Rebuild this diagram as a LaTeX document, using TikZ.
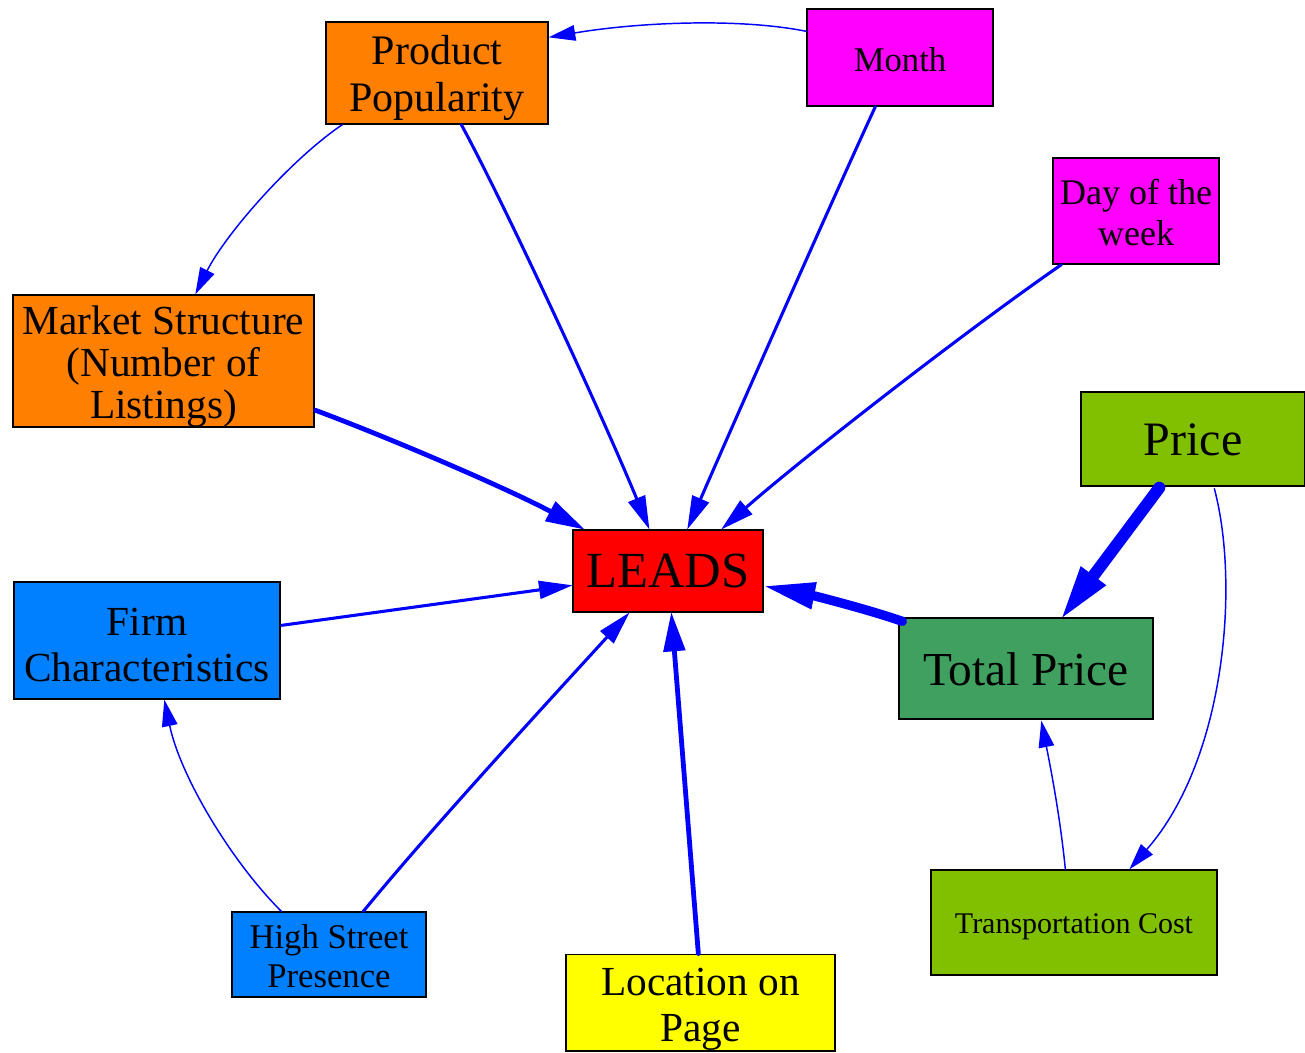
\documentclass[tikz,border=0pt]{standalone}
\usepackage{fontspec}
\setmainfont{Liberation Serif}
\usetikzlibrary{arrows.meta,calc}
\definecolor{eblue}{HTML}{0000FF}
\definecolor{corange}{HTML}{FF8000}
\definecolor{cmagenta}{HTML}{FF00FF}
\definecolor{clime}{HTML}{80C000}
\definecolor{cgreen}{HTML}{40A060}
\definecolor{cblue}{HTML}{0080FF}
\definecolor{cred}{HTML}{FF0000}
\definecolor{cyellow}{HTML}{FFFF00}
% lowers the text of a node by #1 px (strut on first line)
\newcommand{\txtdown}[1]{\rule{0pt}{\dimexpr\fontcharht\font`d+#1pt*3/2\relax}}
\begin{document}
\begin{tikzpicture}[x=0.75pt,y=-0.75pt,
  box/.style={draw=black, line width=1pt, inner sep=0pt, align=center, text=black},
  e1/.style={draw=eblue, line width=1.1pt, line cap=round, -{Triangle[length=20pt,width=12pt,line width=0pt]}},
  e3/.style={draw=eblue, line width=2.3pt, line cap=round, -{Triangle[length=25pt,width=14pt,line width=0pt]}},
  e5/.style={draw=eblue, line width=3.6pt, line cap=round, -{Triangle[length=29pt,width=17pt,line width=0pt]}},
  e8/.style={draw=eblue, line width=7pt, line cap=round, -{Triangle[length=37pt,width=21pt,line width=0pt]}},
  e11/.style={draw=eblue, line width=9pt, line cap=round, -{Triangle[length=39pt,width=24pt,line width=0pt]}}]
\useasboundingbox (0,0) rectangle (1305,1052);

% nodes
\node[box, fill=corange, minimum width=222*0.75pt, minimum height=102*0.75pt,
  font=\fontsize{31.5}{35}\selectfont] (pp) at (437,73) {\txtdown{6}Product\\Popularity};
\node[box, fill=cmagenta, minimum width=186*0.75pt, minimum height=97*0.75pt,
  font=\fontsize{26}{30}\selectfont] (month) at (900,57.5) {\txtdown{3}Month};
\node[box, fill=cmagenta, minimum width=166*0.75pt, minimum height=106*0.75pt,
  font=\fontsize{27}{31}\selectfont] (day) at (1136,211) {\txtdown{2.5}Day of the\\week};
\node[box, fill=corange, minimum width=301*0.75pt, minimum height=130*0.75pt,
  font=\fontsize{31}{31.5}\selectfont] (ms) at (163.5,361) {\txtdown{6}Market Structure\\(Number of\\Listings)};
\node[box, fill=clime, minimum width=224*0.75pt, minimum height=94*0.75pt,
  font=\fontsize{36}{40}\selectfont] (price) at (1193,439) {\txtdown{1}Price};
\node[box, fill=cred, minimum width=190*0.75pt, minimum height=82*0.75pt,
  font=\fontsize{38}{42}\selectfont] (leads) at (668,571) {LEADS};
\node[box, fill=cblue, minimum width=266*0.75pt, minimum height=117*0.75pt,
  font=\fontsize{31}{34.5}\selectfont] (firm) at (147,640.5) {\txtdown{4.5}Firm\\Characteristics};
\node[box, fill=cgreen, minimum width=254*0.75pt, minimum height=101*0.75pt,
  font=\fontsize{35.5}{40}\selectfont] (total) at (1026,668.5) {\txtdown{2}Total Price};
\node[box, fill=cblue, minimum width=194*0.75pt, minimum height=85*0.75pt,
  font=\fontsize{26}{29}\selectfont] (hsp) at (329,954.5) {\txtdown{2}High Street\\Presence};
\node[box, fill=cyellow, minimum width=269*0.75pt, minimum height=93*0.75pt,
  font=\fontsize{31}{35}\selectfont] (loc) at (700.5,1002.5) {\txtdown{7}Location on\\Page};
\node[box, fill=clime, minimum width=286*0.75pt, minimum height=105*0.75pt,
  font=\fontsize{22.5}{26}\selectfont] (tc) at (1074,922.5) {\txtdown{4}Transportation Cost};

% edges
\draw[e1] ([shift={(0,23)}]month.north west) .. controls (740,18) and (640,22) .. ([shift={(0,16)}]pp.north east);
\draw[e1] ([shift={(17,0)}]pp.south west) .. controls (290,160) and (225,235) .. ([shift={(183,0)}]ms.north west);
\draw[e3] ([shift={(136,0)}]pp.south west) .. controls (505,205) and (600,410) .. ([shift={(77,0)}]leads.north west);
\draw[e3] ([shift={(69,0)}]month.south west) .. controls (830,205) and (735,420) .. ([shift={(115,0)}]leads.north west);
\draw[e3] ([shift={(9,0)}]day.south west) .. controls (960,335) and (800,460) .. ([shift={(149,0)}]leads.north west);
\draw[e5] ([shift={(1,116)}]ms.north east) .. controls (400,442) and (510,490) .. ([shift={(12,0)}]leads.north west);
\draw[e3] ([shift={(1,44)}]firm.north east) -- ([shift={(0,56)}]leads.north west);
\draw[e3] ([shift={(132,0)}]hsp.north west) .. controls (430,830) and (545,705) .. ([shift={(57,0)}]leads.south west);
\draw[e1] ([shift={(50,0)}]hsp.north west) .. controls (230,860) and (180,775) .. ([shift={(151,0)}]firm.south west);
\draw[e5] ([shift={(133,0)}]loc.north west) -- ([shift={(99,0)}]leads.south west);
\draw[e8] ([shift={(4,4)}]total.north west) .. controls (870,610) and (815,596) .. ([shift={(2,57)}]leads.north east);
\draw[e11] ([shift={(79,1)}]price.south west) -- ([shift={(164,0)}]total.north west);
\draw[e1] ([shift={(134,2)}]price.south west) .. controls (1240,585) and (1225,760) .. ([shift={(199,0)}]tc.north west);
\draw[e1] ([shift={(135,0)}]tc.north west) .. controls (1060,815) and (1050,765) .. ([shift={(143,1)}]total.south west);
\end{tikzpicture}
\end{document}
